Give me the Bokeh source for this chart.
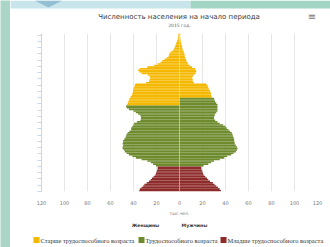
from bokeh.plotting import figure
from bokeh.layouts import row, column
from bokeh.models import (Range1d, ColumnDataSource, FixedTicker, CustomJSTickFormatter,
                          Label, Span)
from bokeh.embed import file_html
from bokeh.resources import INLINE

title_text = "Численность населения на начало периода"
subtitle_text = "2015 год."
x_axis_title = "тыс.чел."
side_labels = ["Женщины", "Мужчины"]
group_names = ["Старше трудоспособного возраста", "Трудоспособного возраста", "Младше трудоспособного возраста"]
group_colors = ["#F5B800", "#6E8B2E", "#8E2B2B"]

ages = list(range(0, 101))
working_age_start = 16
women_retire_age = 55
men_retire_age = 60

women = [35, 34.5, 33, 31.5, 30.5, 28.5, 26.5, 25, 24, 22.5, 21, 20.5, 20, 19.5, 19, 19,
         20.5, 23, 25, 28, 33, 38, 41, 44, 46, 47.5, 48.5, 49.5, 49.5, 49, 49.5, 49, 49, 48, 47,
         46.5, 46, 45, 43.5, 42, 42, 41, 40, 39.5, 37, 34, 33.5, 33.5, 34, 36, 38, 40, 44, 46, 46.5,
         45.5, 45, 44.5, 44, 43.5, 42.5, 41.5, 41, 40.5, 40.5, 40, 39.5, 39, 38.5, 29, 26.5, 26, 25.5,
         26, 27.5, 33, 35, 36, 34.5, 28, 22, 19, 16.5, 15, 13, 11, 9.5, 9, 8.5, 7, 5.5, 4.5, 4, 3.5,
         3, 2.5, 2, 1.5, 1.2, 1, 1]
men = [36, 35, 33.5, 32, 30.5, 29, 26.5, 25, 24, 22.5, 21, 20.5, 20, 19.5, 19, 19,
       21, 25, 27.5, 30, 35, 39, 41.5, 45, 47, 49, 50, 50.5, 50, 49, 48, 48, 47.5, 47.5, 47, 46.5,
       46, 45.5, 44, 42.5, 41, 40, 38, 35, 33, 31, 30, 30, 30.5, 31, 32, 33, 33, 33, 33, 33, 32, 31,
       30.5, 30, 28, 27.5, 27.5, 27, 26.5, 25.5, 25, 24.5, 23.5, 12.5, 11.5, 11.5, 11, 11.5, 12.5, 14,
       14.5, 14.5, 13.5, 11, 9, 7.5, 7, 6, 5.5, 5, 4.5, 4.5, 4, 3.5, 3, 2.5, 2.2, 2, 1.5, 1.2, 1, 0.8,
       0.6, 0.5, 0.8]

x_ticks = [-120, -100, -80, -60, -40, -20, 0, 20, 40, 60, 80, 100, 120]

FRAME_BG = "#a9d6c6"
TOP_LEFT_BG = "#c8e5eb"
TOP_RIGHT_BG = "#a2d5c4"


def group_of(age, retire):
    if age < working_age_start:
        return 2
    if age < retire:
        return 1
    return 0


groups = [dict(y=[], left=[], right=[]) for _ in range(3)]
for a, w, m in zip(ages, women, men):
    g = groups[group_of(a, women_retire_age)]
    g["y"].append(a); g["left"].append(-w); g["right"].append(0)
    g = groups[group_of(a, men_retire_age)]
    g["y"].append(a); g["left"].append(0); g["right"].append(m)


def blank_fig(w, h, xr, yr):
    f = figure(width=w, height=h, x_range=xr, y_range=yr, output_backend="svg",
               toolbar_location=None, min_border=0, min_border_left=0, min_border_right=0,
               min_border_top=0, min_border_bottom=0, frame_align=False)
    f.axis.visible = False
    f.grid.visible = False
    f.outline_line_color = None
    f.background_fill_color = "white"
    f.border_fill_color = "white"
    return f


# left decorative strip of the page
strip = blank_fig(10, 247, Range1d(0, 10), Range1d(247, 0))
strip.background_fill_color = FRAME_BG
strip.border_fill_color = FRAME_BG

# header: page strip + title
top = blank_fig(320, 30, Range1d(10, 330), Range1d(30, 0))
top.quad(left=[10], right=[190], top=[0], bottom=[8], fill_color=TOP_LEFT_BG, line_color=None)
top.quad(left=[190], right=[330], top=[0], bottom=[8], fill_color=TOP_RIGHT_BG, line_color=None)
top.patch(x=[34, 62, 48], y=[0, 0, 7], fill_color="#93bfd3", line_color=None)


def lab(f, text, x, y, size, color, style="normal", font="DejaVu Sans", align="center"):
    f.add_layout(Label(x=x, y=y, text=text, text_font=font, text_font_size=size,
                       text_color=color, text_font_style=style, text_align=align,
                       text_baseline="middle"))


lab(top, title_text, 178.5, 16, "7px", "#3a3a3a")
lab(top, subtitle_text, 179, 25, "4.5px", "#666666")
lab(top, "≡", 311.5, 16, "10px", "#777777")

# main chart
p = figure(width=320, height=188, x_range=Range1d(-120, 120), y_range=Range1d(-0.5, 100.5),
           output_backend="svg", toolbar_location=None, frame_align=False,
           min_border_left=31, min_border_right=13, min_border_top=3, min_border_bottom=19)
p.outline_line_color = None
p.background_fill_color = "white"
p.border_fill_color = "white"

for g, c in zip(groups, group_colors):
    p.hbar(y="y", left="left", right="right", height=1.0, source=ColumnDataSource(g),
           fill_color=c, line_color=None)

p.add_layout(Span(location=0, dimension="height", line_color="white", line_alpha=0.35, line_width=1))

p.xaxis.ticker = FixedTicker(ticks=x_ticks)
p.xaxis.formatter = CustomJSTickFormatter(code="return Math.abs(tick).toString()")
p.xaxis.axis_line_color = None
p.xaxis.major_tick_line_color = None
p.xaxis.minor_tick_line_color = None
p.xaxis.major_label_text_font_size = "5px"
p.xaxis.major_label_text_color = "#777777"
p.xaxis.major_label_text_font = "DejaVu Sans"
p.xaxis.major_label_standoff = 3
p.xaxis.axis_label = x_axis_title
p.xaxis.axis_label_text_font_size = "4.5px"
p.xaxis.axis_label_text_font_style = "normal"
p.xaxis.axis_label_text_color = "#777777"
p.xaxis.axis_label_text_font = "DejaVu Sans"
p.xaxis.axis_label_standoff = 3
p.xgrid.ticker = FixedTicker(ticks=x_ticks)
p.xgrid.grid_line_color = "#e6e6e6"

p.yaxis.ticker = FixedTicker(ticks=[-0.5 + 4 * k for k in range(26)])
p.yaxis.formatter = CustomJSTickFormatter(code="return ''")
p.yaxis.axis_line_color = "#ccd6eb"
p.yaxis.major_tick_line_color = "#ccd6eb"
p.yaxis.major_tick_out = 4
p.yaxis.major_tick_in = 0
p.yaxis.minor_tick_line_color = None
p.yaxis.major_label_standoff = 0
p.ygrid.grid_line_color = None

# footer: sex labels + legend
bottom = blank_fig(320, 29, Range1d(10, 330), Range1d(247, 218))
lab(bottom, side_labels[0], 145, 225, "4.6px", "#333333", style="bold")
lab(bottom, side_labels[1], 194, 225, "4.6px", "#333333", style="bold")
legend_x = [36, 141, 223]
for xx, name, c in zip(legend_x, group_names, group_colors):
    bottom.scatter(x=[xx], y=[239.5], marker="square", size=6, fill_color=c, line_color=None)
    lab(bottom, name, xx + 4, 239.5, "6.4px", "#333333", font="Liberation Serif", align="left")

layout = row(strip, column(top, p, bottom))
open("out.html", "w").write(file_html(layout, INLINE))
